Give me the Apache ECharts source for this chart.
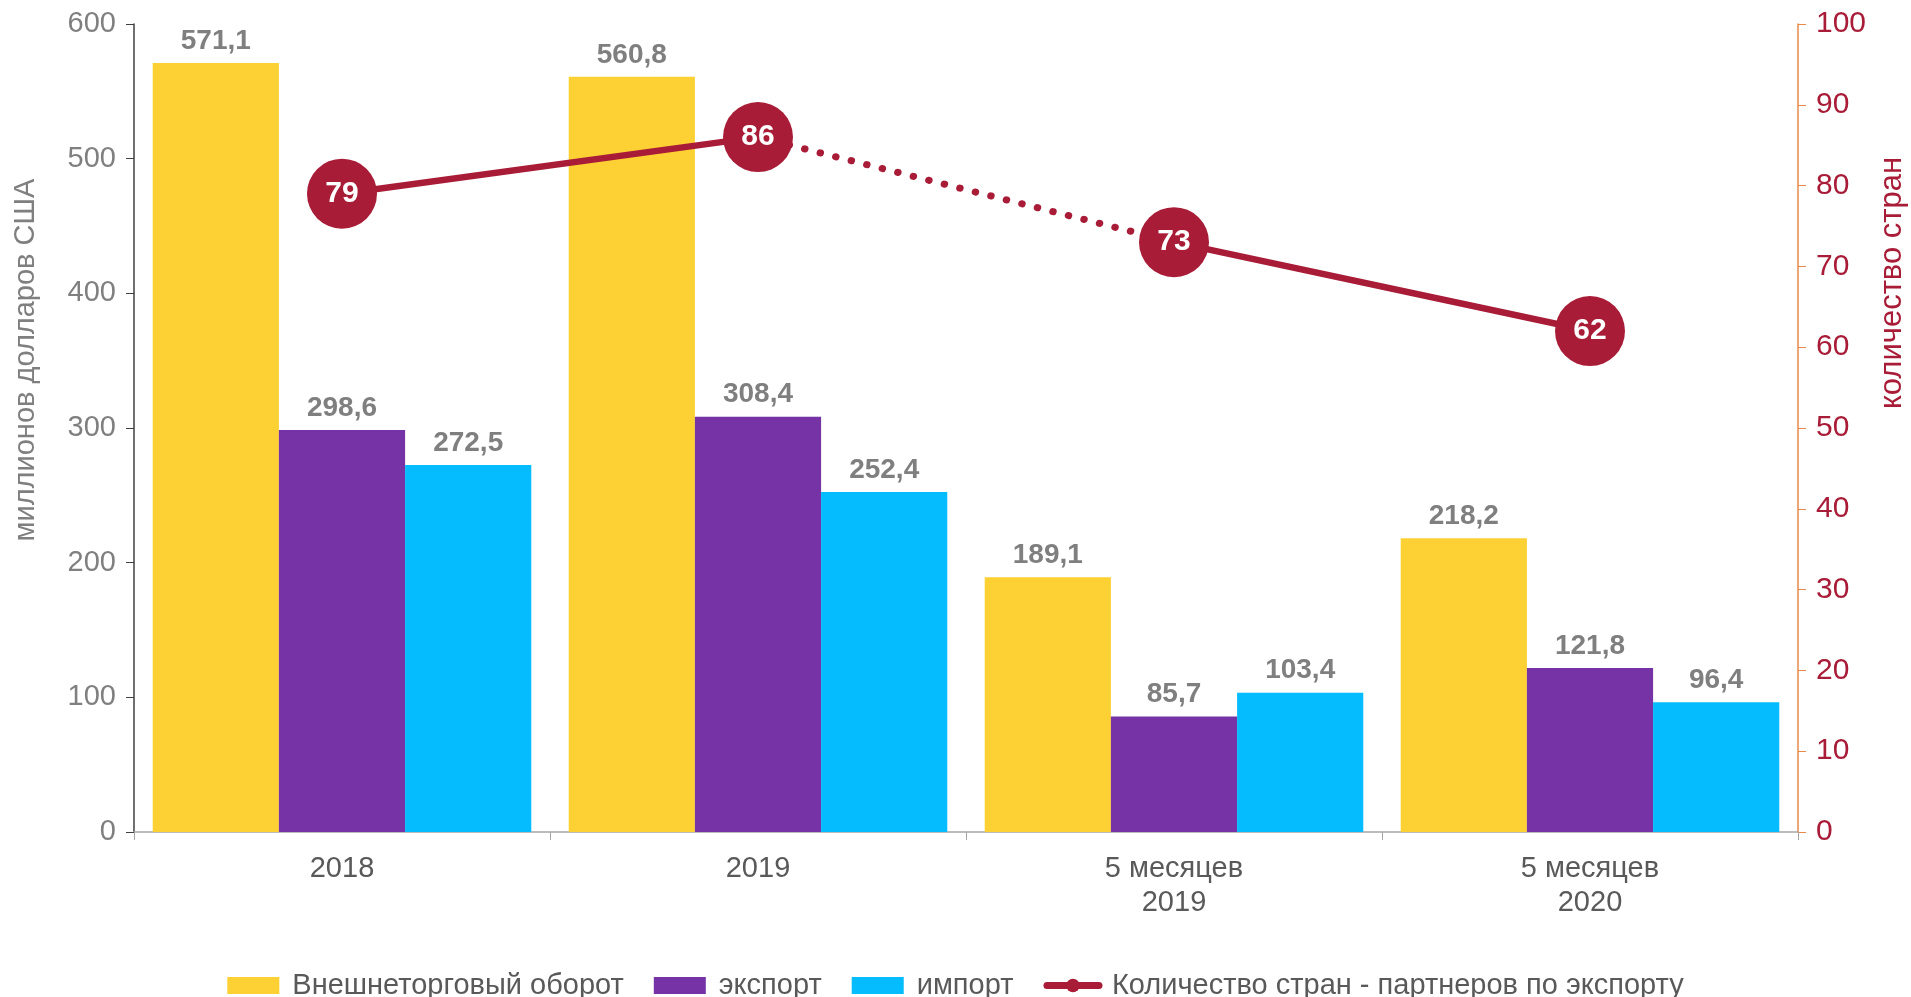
<!DOCTYPE html>
<html>
<head>
<meta charset="utf-8">
<script src="https://cdn.jsdelivr.net/npm/echarts@6/dist/echarts.min.js"></script>
<style>
  html, body { margin: 0; padding: 0; background: #fff; }
  #chart { width: 1911px; height: 997px; }
</style>
</head>
<body>
<div id="chart"></div>
<script>
const categories = ['2018', '2019', '5 месяцев\n2019', '5 месяцев\n2020']
const turnover = [571.1, 560.8, 189.1, 218.2]
const exports = [298.6, 308.4, 85.7, 121.8]
const imports = [272.5, 252.4, 103.4, 96.4]
const partners = [79, 86, 73, 62]

const FONT = '"Liberation Sans", Arial, sans-serif'
const RED = '#a81c37'
const lineName = 'Количество стран - партнеров по экспорту'

// сплошные участки и пунктир между 2019 и 5 мес. 2019
const solidA = partners.map((v, i) => (i <= 1 ? v : '-'))
const dotted = partners.map((v, i) => (i === 1 || i === 2 ? v : '-'))
const solidB = partners.map((v, i) => (i >= 2 ? v : '-'))

const fmt = (p) => String(p.value).replace('.', ',')

const barLabel = {
  show: true,
  position: 'top',
  distance: 8,
  color: '#7f7f7f',
  fontWeight: 'bold',
  fontSize: 28,
  fontFamily: FONT,
  formatter: fmt
}

function bar(name, data, color) {
  return {
    name, type: 'bar', data,
    yAxisIndex: 0,
    barGap: '0%',
    barCategoryGap: '9%',
    itemStyle: { color },
    label: barLabel,
    z: 2
  }
}

function line(data, dash) {
  return {
    name: lineName,
    type: 'line',
    data,
    yAxisIndex: 1,
    symbol: 'circle',
    symbolSize: 18,
    showSymbol: false,
    itemStyle: { color: RED },
    lineStyle: { color: RED, width: dash ? 7 : 6.5, type: dash ? [0.5, 15.5] : 'solid', cap: 'round' },
    z: 4
  }
}

const chart = echarts.init(document.getElementById('chart'))
chart.setOption({
  animation: false,
  textStyle: { fontFamily: FONT },
  grid: { left: 134, right: 113, top: 24, bottom: 165, containLabel: false, outerBoundsMode: 'none' },
  legend: {
    top: 966,
    left: 'center',
    itemWidth: 52,
    itemHeight: 17,
    itemGap: 30,
    textStyle: { color: '#595959', fontSize: 29, fontFamily: FONT, padding: [0, 0, 0, 8] },
    data: [
      { name: 'Внешнеторговый оборот', icon: 'rect' },
      { name: 'экспорт', icon: 'rect' },
      { name: 'импорт', icon: 'rect' },
      { name: lineName, lineStyle: { width: 7 } }
    ]
  },
  xAxis: {
    type: 'category',
    data: categories,
    axisLine: { lineStyle: { color: '#a6a6a6', width: 1.5 } },
    axisTick: { show: true, length: 8, lineStyle: { color: '#a6a6a6' } },
    axisLabel: { color: '#595959', fontSize: 29, margin: 20, lineHeight: 34, fontFamily: FONT }
  },
  yAxis: [
    {
      type: 'value',
      min: 0, max: 600, interval: 100,
      name: 'миллионов долларов США',
      nameLocation: 'middle',
      nameRotate: 90,
      nameGap: 94,
      nameTextStyle: { color: '#7f7f7f', fontSize: 29, padding: [0, 0, 0, 136] },
      axisLine: { show: true, lineStyle: { color: '#404040', width: 1.5 } },
      axisTick: { show: true, length: 8, lineStyle: { color: '#404040' } },
      axisLabel: { color: '#7f7f7f', fontSize: 29, margin: 18 },
      splitLine: { show: false }
    },
    {
      type: 'value',
      min: 0, max: 100, interval: 10,
      position: 'right',
      name: 'количество стран',
      nameLocation: 'middle',
      nameRotate: 90,
      nameGap: 2,
      nameTextStyle: { color: RED, fontSize: 31, padding: [0, 0, 0, 290] },
      axisLine: { show: true, lineStyle: { color: '#e8894a', width: 1.5 } },
      axisTick: { show: true, length: 8, lineStyle: { color: '#e8894a' } },
      axisLabel: { color: RED, fontSize: 30, margin: 18 },
      splitLine: { show: false }
    }
  ],
  series: [
    bar('Внешнеторговый оборот', turnover, '#fdd033'),
    bar('экспорт', exports, '#7533a5'),
    bar('импорт', imports, '#05bcff'),
    line(solidA, false),
    line(dotted, true),
    line(solidB, false),
    {
      name: lineName,
      type: 'scatter',
      data: partners,
      yAxisIndex: 1,
      symbol: 'circle',
      symbolSize: 70,
      itemStyle: { color: RED, opacity: 1 },
      label: {
        show: true,
        position: 'inside',
        color: '#fff',
        fontWeight: 'bold',
        fontSize: 30,
        fontFamily: FONT
      },
      z: 6
    }
  ]
})
</script>
</body>
</html>
